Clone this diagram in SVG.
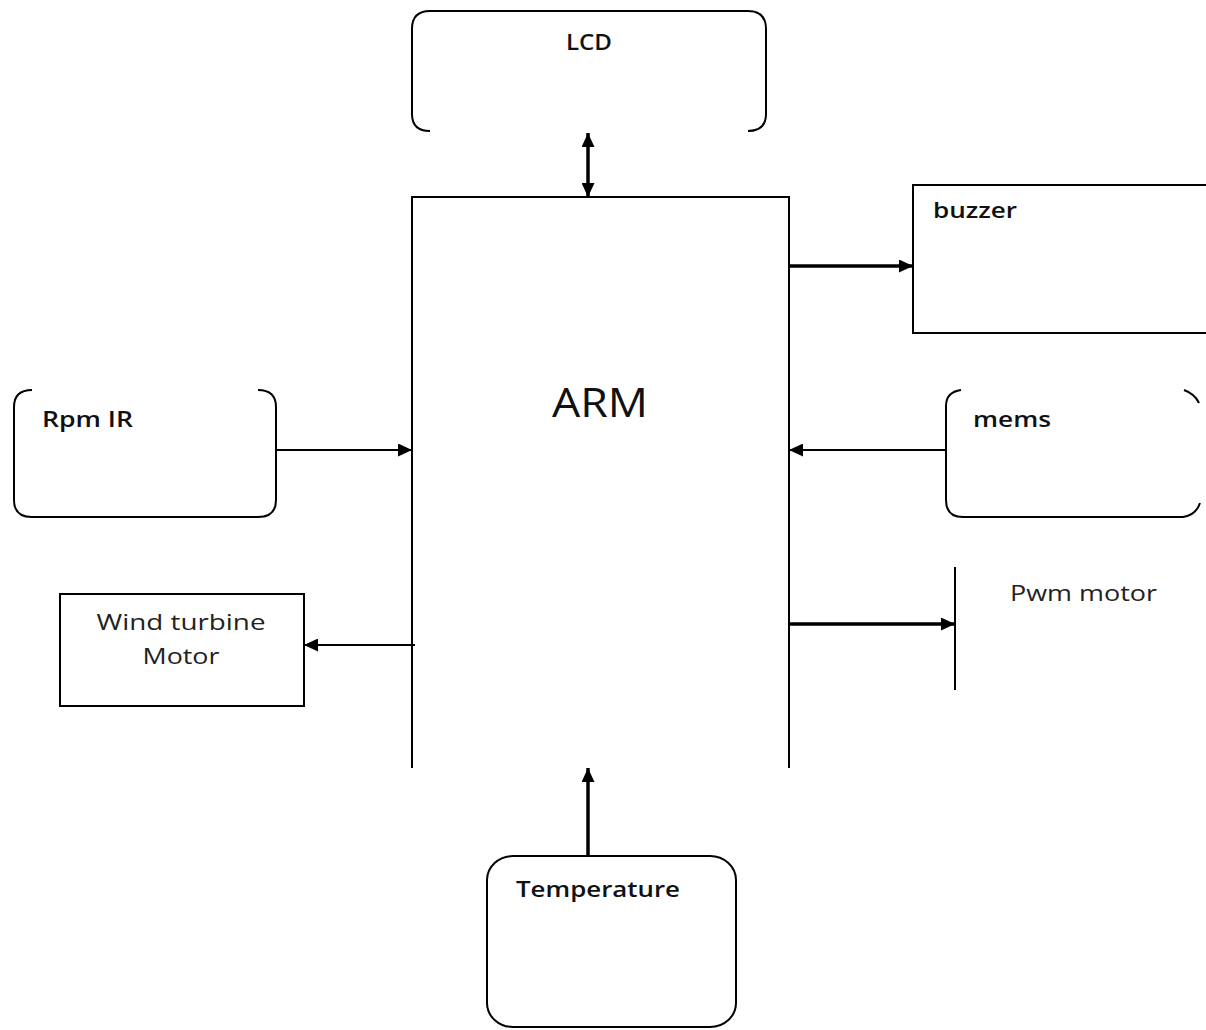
<svg xmlns="http://www.w3.org/2000/svg" width="1206" height="1030" viewBox="0 0 1206 1030">
  <style>
    .edge { fill: none; stroke: #000; stroke-width: 2; }
    .wire { fill: none; stroke: #000; stroke-width: 2; }
    .wire-bold { fill: none; stroke: #000; stroke-width: 3.5; }
    .lbl { font-family: "Open Sans", "Liberation Sans", sans-serif; font-size: 21px; font-weight: 600; fill: #111; }
    .lbl-light { font-family: "Open Sans", "Liberation Sans", sans-serif; font-size: 22px; font-weight: 400; fill: #222; }
    .title { font-family: "Open Sans", "Liberation Sans", sans-serif; font-size: 41px; font-weight: 400; fill: #111; }
  </style>
  <defs>
    <marker id="tip" viewBox="0 0 14 13" refX="14" refY="6.5" markerWidth="14" markerHeight="13" markerUnits="userSpaceOnUse" orient="auto-start-reverse">
      <path d="M0,0 L14,6.5 L0,13 z" fill="#000"/>
    </marker>
  </defs>
  <rect width="1206" height="1030" fill="#fff"/>

  <!-- LCD: rounded outline, open at the bottom -->
  <g id="lcd">
    <path class="edge" d="M430,131 Q412,131 412,114 L412,29 Q412,11 430,11 L748,11 Q766,11 766,29 L766,114 Q766,131 748,131"/>
    <text class="lbl" x="589" y="50" text-anchor="middle" textLength="46" lengthAdjust="spacingAndGlyphs">LCD</text>
  </g>

  <!-- ARM controller: open at the bottom -->
  <g id="arm">
    <path class="edge" d="M412,768 L412,197 L789,197 L789,768"/>
    <text class="title" x="600" y="417" text-anchor="middle" textLength="96" lengthAdjust="spacingAndGlyphs">ARM</text>
  </g>

  <!-- buzzer -->
  <g id="buzzer">
    <rect class="edge" x="913" y="185" width="300" height="148"/>
    <text class="lbl" x="933" y="218" textLength="84" lengthAdjust="spacingAndGlyphs">buzzer</text>
  </g>

  <!-- Rpm IR: rounded outline, open at the top -->
  <g id="rpm-ir">
    <path class="edge" d="M32,390 Q14,390 14,407 L14,500 Q14,517 32,517 L258,517 Q276,517 276,500 L276,407 Q276,390 258,390"/>
    <text class="lbl" x="42" y="427" textLength="91" lengthAdjust="spacingAndGlyphs">Rpm IR</text>
  </g>

  <!-- mems: rounded outline, open at top and right -->
  <g id="mems">
    <path class="edge" d="M961,390 Q946,392 946,406 L946,500 Q946,517 963,517 L1183,517 Q1196,515 1200,503"/>
    <path class="edge" d="M1184,390 Q1195,394 1199,403"/>
    <text class="lbl" x="973" y="427" textLength="78" lengthAdjust="spacingAndGlyphs">mems</text>
  </g>

  <!-- Wind turbine motor -->
  <g id="wind-turbine-motor">
    <rect class="edge" x="60" y="594" width="244" height="112"/>
    <text class="lbl-light" x="181" y="630" text-anchor="middle" textLength="169" lengthAdjust="spacingAndGlyphs">Wind turbine</text>
    <text class="lbl-light" x="181" y="664" text-anchor="middle" textLength="77" lengthAdjust="spacingAndGlyphs">Motor</text>
  </g>

  <!-- Pwm motor -->
  <g id="pwm-motor">
    <line class="edge" x1="955" y1="567" x2="955" y2="690"/>
    <text class="lbl-light" x="1010" y="601" textLength="147" lengthAdjust="spacingAndGlyphs">Pwm motor</text>
  </g>

  <!-- Temperature sensor -->
  <g id="temperature">
    <rect class="edge" x="487" y="856" width="249" height="171" rx="26" ry="24"/>
    <text class="lbl" x="516" y="897" textLength="164" lengthAdjust="spacingAndGlyphs">Temperature</text>
  </g>

  <!-- connectors -->
  <g id="connectors">
    <line class="wire-bold" x1="588" y1="133" x2="588" y2="197" stroke-width="4" marker-start="url(#tip)" marker-end="url(#tip)"/>
    <line class="wire-bold" x1="789" y1="266" x2="913" y2="266" marker-end="url(#tip)"/>
    <line class="wire" x1="276" y1="450" x2="412" y2="450" marker-end="url(#tip)"/>
    <line class="wire" x1="946" y1="450" x2="789" y2="450" marker-end="url(#tip)"/>
    <line class="wire" x1="415" y1="645" x2="304" y2="645" marker-end="url(#tip)"/>
    <line class="wire-bold" x1="789" y1="624" x2="955" y2="624" marker-end="url(#tip)"/>
    <line class="wire-bold" x1="588" y1="856" x2="588" y2="768" stroke-width="4" marker-end="url(#tip)"/>
  </g>
</svg>
